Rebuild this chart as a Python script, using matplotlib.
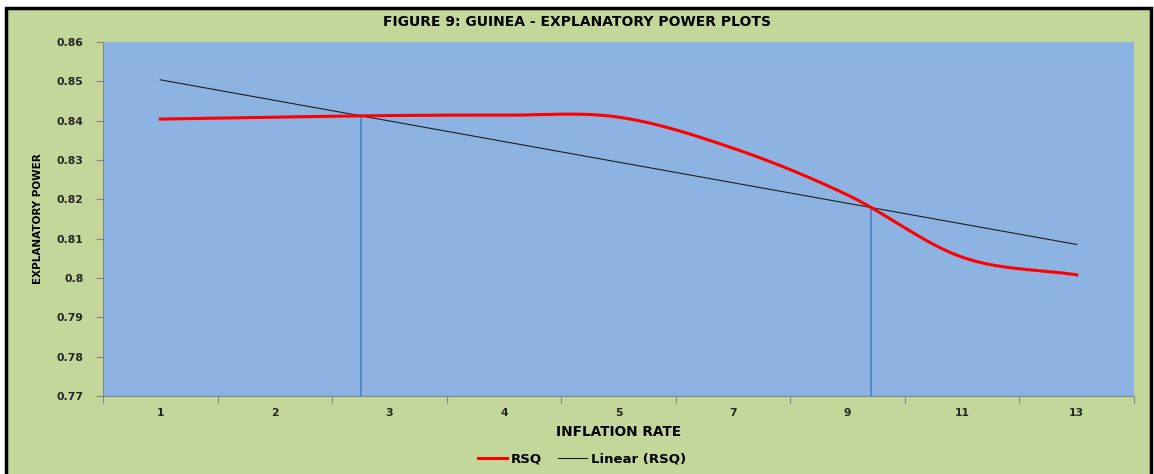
import matplotlib.pyplot as plt
import numpy as np
from matplotlib.patches import Rectangle

# data
rates = ["1", "2", "3", "4", "5", "7", "9", "11", "13"]
rsq = [0.8404, 0.8409, 0.8413, 0.8414, 0.8409, 0.8330, 0.8211, 0.8053, 0.8008]
yticks = [0.77, 0.78, 0.79, 0.80, 0.81, 0.82, 0.83, 0.84, 0.85, 0.86]
ytick_labels = ["0.77", "0.78", "0.79", "0.8", "0.81", "0.82", "0.83", "0.84", "0.85", "0.86"]

green = "#C4D79B"
blue = "#8DB3E2"
grey = "#868686"


def smooth(x, y, n=40):
    # catmull-rom style smoothing like excel's "smoothed line"
    x = np.asarray(x, float)
    y = np.asarray(y, float)
    px = np.concatenate([[2 * x[0] - x[1]], x, [2 * x[-1] - x[-2]]])
    py = np.concatenate([[2 * y[0] - y[1]], y, [2 * y[-1] - y[-2]]])
    xs, ys = [], []
    t = np.linspace(0, 1, n, endpoint=False)
    for i in range(1, len(px) - 2):
        for p, out in ((px, xs), (py, ys)):
            p0, p1, p2, p3 = p[i - 1], p[i], p[i + 1], p[i + 2]
            out.extend(0.5 * ((2 * p1) + (-p0 + p2) * t + (2 * p0 - 5 * p1 + 4 * p2 - p3) * t ** 2
                              + (-p0 + 3 * p1 - 3 * p2 + p3) * t ** 3))
    xs.append(x[-1])
    ys.append(y[-1])
    return np.array(xs), np.array(ys)


idx = np.arange(len(rates))
sx, sy = smooth(idx, rsq)
slope, icpt = np.polyfit(idx, rsq, 1)
trend = slope * sx + icpt

fig = plt.figure(figsize=(11.54, 4.74), dpi=100)
fig.patch.set_facecolor("white")
fig.patches.append(Rectangle((6 / 1154, -0.05), 1145 / 1154, 1.05 - 8 / 474,
                             transform=fig.transFigure, facecolor=green,
                             edgecolor="black", linewidth=2.5, zorder=-5))

ax = fig.add_axes([103 / 1154, 78 / 474, 1031 / 1154, 354 / 474])
ax.set_zorder(2)
ax.set_facecolor(blue)

# drop lines at the crossings of the curve and the trend line
diff = sy - trend
for k in np.where(np.diff(np.sign(diff)) != 0)[0]:
    ax.vlines(sx[k], 0.77, sy[k], color="#4F81BD", linewidth=1.2, zorder=2)

ax.plot(sx, sy, color="#FF0000", linewidth=2.2, label="RSQ", zorder=4)
ax.plot(idx, slope * idx + icpt, color="#1F1F1F", linewidth=0.8, label="Linear (RSQ)", zorder=3)

ax.set_xlim(-0.5, len(rates) - 0.5)
ax.set_ylim(0.77, 0.86)
ax.set_yticks(yticks)
ax.set_yticklabels(ytick_labels)
ax.set_xticks(np.arange(-0.5, len(rates)))
ax.set_xticklabels([])
ax.set_xticks(idx, minor=True)
ax.set_xticklabels(rates, minor=True)
ax.tick_params(axis="x", which="major", length=5, color=grey, direction="out")
ax.tick_params(axis="x", which="minor", length=0, pad=9)
ax.tick_params(axis="y", length=5, color=grey, pad=9)
for lab in ax.get_xticklabels(minor=True) + ax.get_yticklabels():
    lab.set_fontsize(7.8)
    lab.set_fontweight("bold")
    lab.set_color("#262626")
for s in ["top", "right"]:
    ax.spines[s].set_visible(False)
for s in ["left", "bottom"]:
    ax.spines[s].set_color(grey)

fig.text(0.5, 1 - 22 / 474, "FIGURE 9: GUINEA - EXPLANATORY POWER PLOTS",
         ha="center", va="center", fontsize=10, fontweight="bold")
fig.text(618 / 1154, 1 - 432 / 474, "INFLATION RATE", ha="center", va="center",
         fontsize=9.8, fontweight="bold")
fig.text(38 / 1154, 1 - 219 / 474, "EXPLANATORY POWER", ha="center", va="center",
         rotation=90, fontsize=7.5, fontweight="bold", family=["DejaVu Sans"])

leg = ax.legend(loc="center", bbox_to_anchor=(582 / 1154, 1 - 459 / 474),
                bbox_transform=fig.transFigure, ncol=2, frameon=False,
                prop={"size": 9.5, "weight": "bold"}, handlelength=2.2,
                handletextpad=0.3, columnspacing=1.2)

fig.savefig("out.png", dpi=100)
